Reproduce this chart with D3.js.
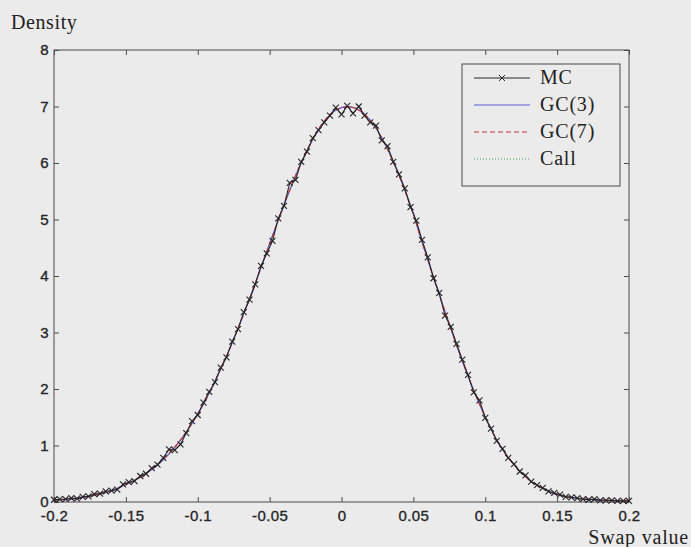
<!DOCTYPE html>
<html>
<head>
<meta charset="utf-8">
<script src="https://cdn.jsdelivr.net/npm/d3@7"></script>
<style>
  body { margin: 0; background: #ebebeb; }
  svg { display: block; }
  .tick-label { font-family: "Liberation Sans", Arial, sans-serif; font-size: 15px; fill: #262626; stroke: #262626; stroke-width: 0.35px; letter-spacing: 0.4px; }
  .serif { font-family: "Liberation Serif", "DejaVu Serif", serif; fill: #222; }
</style>
</head>
<body>
<script>

// x ticks / y ticks
var xTicks = [-0.2, -0.15, -0.1, -0.05, 0, 0.05, 0.1, 0.15, 0.2];
var xTickLabels = ["-0.2", "-0.15", "-0.1", "-0.05", "0", "0.05", "0.1", "0.15", "0.2"];
var yTicks = [0, 1, 2, 3, 4, 5, 6, 7, 8];

// Monte Carlo histogram density, bins every 0.004
var mcStart = -0.2, mcStep = 0.004;
var mcValues = [
  0.04, 0.05, 0.05, 0.07, 0.06, 0.09, 0.10, 0.14, 0.15, 0.19,
  0.20, 0.22, 0.31, 0.35, 0.37, 0.46, 0.50, 0.60, 0.66, 0.78,
  0.93, 0.92, 1.02, 1.22, 1.43, 1.54, 1.76, 1.95, 2.12, 2.38,
  2.56, 2.84, 3.06, 3.36, 3.58, 3.85, 4.18, 4.40, 4.62, 5.02,
  5.24, 5.65, 5.70, 6.02, 6.20, 6.44, 6.58, 6.72, 6.84, 6.98,
  6.86, 7.01, 6.88, 7.00, 6.84, 6.72, 6.66, 6.40, 6.30, 6.02,
  5.80, 5.55, 5.22, 4.98, 4.64, 4.33, 3.96, 3.70, 3.30, 3.10,
  2.80, 2.52, 2.25, 1.94, 1.80, 1.49, 1.30, 1.08, 0.94, 0.78,
  0.67, 0.54, 0.47, 0.36, 0.30, 0.25, 0.19, 0.16, 0.13, 0.09,
  0.08, 0.07, 0.05, 0.04, 0.05, 0.03, 0.03, 0.03, 0.02, 0.02,
  0.02
];

// approximations, evaluated every 0.005
var approxStart = -0.2, approxStep = 0.005;
var gc3Values = [
  0.03, 0.04, 0.05, 0.06, 0.08, 0.10, 0.13, 0.16, 0.20, 0.25,
  0.31, 0.37, 0.44, 0.52, 0.61, 0.72, 0.85, 1.00, 1.16, 1.35,
  1.56, 1.78, 2.03, 2.30, 2.58, 2.88, 3.20, 3.53, 3.87, 4.22,
  4.57, 4.92, 5.26, 5.58, 5.89, 6.17, 6.42, 6.63, 6.80, 6.92,
  6.98, 7.00, 6.97, 6.89, 6.76, 6.58, 6.36, 6.09, 5.79, 5.46,
  5.11, 4.68, 4.29, 3.90, 3.52, 3.15, 2.78, 2.43, 2.10, 1.79,
  1.50, 1.24, 1.01, 0.82, 0.66, 0.52, 0.40, 0.31, 0.24, 0.18,
  0.13, 0.10, 0.08, 0.06, 0.05, 0.04, 0.03, 0.03, 0.02, 0.02,
  0.02
];
var gc7Values = [
  0.03, 0.04, 0.05, 0.06, 0.08, 0.10, 0.13, 0.16, 0.20, 0.25,
  0.31, 0.37, 0.44, 0.52, 0.62, 0.73, 0.86, 1.00, 1.17, 1.35,
  1.56, 1.78, 2.03, 2.30, 2.58, 2.88, 3.20, 3.53, 3.87, 4.22,
  4.57, 4.92, 5.26, 5.59, 5.90, 6.18, 6.43, 6.64, 6.81, 6.93,
  6.99, 7.00, 6.97, 6.89, 6.76, 6.58, 6.35, 6.08, 5.78, 5.45,
  5.10, 4.68, 4.29, 3.90, 3.52, 3.15, 2.78, 2.43, 2.10, 1.79,
  1.50, 1.24, 1.01, 0.82, 0.66, 0.52, 0.40, 0.31, 0.24, 0.18,
  0.13, 0.10, 0.08, 0.06, 0.05, 0.04, 0.03, 0.03, 0.02, 0.02,
  0.02
];
var callValues = [
  0.03, 0.04, 0.05, 0.06, 0.08, 0.10, 0.13, 0.16, 0.20, 0.25,
  0.31, 0.37, 0.44, 0.52, 0.61, 0.72, 0.85, 1.00, 1.16, 1.35,
  1.56, 1.78, 2.03, 2.30, 2.58, 2.88, 3.20, 3.53, 3.87, 4.22,
  4.57, 4.92, 5.26, 5.58, 5.89, 6.17, 6.42, 6.63, 6.80, 6.92,
  6.98, 7.00, 6.97, 6.89, 6.76, 6.58, 6.36, 6.09, 5.79, 5.46,
  5.11, 4.68, 4.29, 3.90, 3.52, 3.15, 2.78, 2.43, 2.10, 1.79,
  1.50, 1.24, 1.01, 0.82, 0.66, 0.52, 0.40, 0.31, 0.24, 0.18,
  0.13, 0.10, 0.08, 0.06, 0.05, 0.04, 0.03, 0.03, 0.02, 0.02,
  0.02
];

var legendItems = ["MC", "GC(3)", "GC(7)", "Call"];

var width = 691, height = 547;
var margin = {left: 54, right: 62, top: 50, bottom: 45};

var svg = d3.select("body").append("svg")
  .attr("width", width)
  .attr("height", height);

var x = d3.scaleLinear().domain([-0.2, 0.2]).range([margin.left, width - margin.right]);
var y = d3.scaleLinear().domain([0, 8]).range([height - margin.bottom, margin.top]);

function toPoints(start, step, values) {
  return values.map(function(v, i) { return [start + i * step, v]; });
}

var mcData = toPoints(mcStart, mcStep, mcValues);
var gc3Data = toPoints(approxStart, approxStep, gc3Values);
var gc7Data = toPoints(approxStart, approxStep, gc7Values);
var callData = toPoints(approxStart, approxStep, callValues);

var line = d3.line()
  .x(function(d) { return x(d[0]); })
  .y(function(d) { return y(d[1]); });

// axes box with inward ticks on all four sides
var tickLen = 5;
var axisColor = "#4a4a4a";

svg.append("g")
  .attr("transform", "translate(0," + y(0) + ")")
  .call(d3.axisBottom(x).tickValues(xTicks).tickSizeInner(-tickLen).tickSizeOuter(0)
    .tickFormat(function(d, i) { return xTickLabels[i]; }))
  .call(function(g) {
    g.select(".domain").remove();
    g.selectAll(".tick line").attr("stroke", axisColor);
    g.selectAll(".tick text").attr("class", "tick-label").attr("y", 8).attr("dy", "0.71em");
  });

svg.append("g")
  .attr("transform", "translate(0," + y(8) + ")")
  .call(d3.axisTop(x).tickValues(xTicks).tickSizeInner(-tickLen).tickSizeOuter(0).tickFormat(""))
  .call(function(g) {
    g.select(".domain").remove();
    g.selectAll(".tick line").attr("stroke", axisColor);
  });

svg.append("g")
  .attr("transform", "translate(" + x(-0.2) + ",0)")
  .call(d3.axisLeft(y).tickValues(yTicks).tickSizeInner(-tickLen).tickSizeOuter(0)
    .tickFormat(d3.format("d")))
  .call(function(g) {
    g.select(".domain").remove();
    g.selectAll(".tick line").attr("stroke", axisColor);
    g.selectAll(".tick text").attr("class", "tick-label").attr("x", -5);
  });

svg.append("g")
  .attr("transform", "translate(" + x(0.2) + ",0)")
  .call(d3.axisRight(y).tickValues(yTicks).tickSizeInner(-tickLen).tickSizeOuter(0).tickFormat(""))
  .call(function(g) {
    g.select(".domain").remove();
    g.selectAll(".tick line").attr("stroke", axisColor);
  });

svg.append("rect")
  .attr("x", x(-0.2))
  .attr("y", y(8))
  .attr("width", x(0.2) - x(-0.2))
  .attr("height", y(0) - y(8))
  .attr("fill", "none")
  .attr("stroke", axisColor)
  .attr("stroke-width", 1);

// the curves
var plot = svg.append("g");

plot.append("path").datum(callData)
  .attr("d", line).attr("fill", "none")
  .attr("stroke", "#4f9a5a").attr("stroke-width", 1)
  .attr("stroke-dasharray", "1,2");

plot.append("path").datum(gc3Data)
  .attr("d", line).attr("fill", "none")
  .attr("stroke", "#5a5ad8").attr("stroke-width", 1.2);

plot.append("path").datum(gc7Data)
  .attr("d", line).attr("fill", "none")
  .attr("stroke", "#c83a3a").attr("stroke-width", 1.2)
  .attr("stroke-dasharray", "5,3");

plot.append("path").datum(mcData)
  .attr("d", line).attr("fill", "none")
  .attr("stroke", "#262626").attr("stroke-width", 1.1);

var ms = 3;
plot.selectAll(".mc-marker")
  .data(mcData)
  .enter().append("path")
  .attr("class", "mc-marker")
  .attr("d", function(d) {
    var cx = x(d[0]), cy = y(d[1]);
    return "M" + (cx - ms) + "," + (cy - ms) + "L" + (cx + ms) + "," + (cy + ms) +
      "M" + (cx - ms) + "," + (cy + ms) + "L" + (cx + ms) + "," + (cy - ms);
  })
  .attr("stroke", "#262626")
  .attr("stroke-width", 1.1);

// legend
var legend = svg.append("g");
legend.append("rect")
  .attr("x", 462).attr("y", 64)
  .attr("width", 158).attr("height", 122)
  .attr("fill", "#ebebeb")
  .attr("stroke", axisColor)
  .attr("stroke-width", 1);

var legendStyles = [
  {stroke: "#262626", dash: null, marker: true},
  {stroke: "#5a5ad8", dash: null, marker: false},
  {stroke: "#c83a3a", dash: "5,3", marker: false},
  {stroke: "#4f9a5a", dash: "1,2", marker: false}
];

legendItems.forEach(function(name, i) {
  var by = 84 + i * 27;
  var st = legendStyles[i];
  legend.append("line")
    .attr("x1", 474).attr("x2", 530)
    .attr("y1", by - 6).attr("y2", by - 6)
    .attr("stroke", st.stroke)
    .attr("stroke-width", 1)
    .attr("stroke-dasharray", st.dash);
  if(st.marker) {
    legend.append("path")
      .attr("d", "M499,75L505,81M499,81L505,75")
      .attr("stroke", st.stroke).attr("stroke-width", 1);
  }
  legend.append("text")
    .attr("class", "serif")
    .attr("x", 540).attr("y", by)
    .style("font-size", "20px")
    .style("letter-spacing", "0.8px")
    .text(name);
});

// axis titles
svg.append("text")
  .attr("class", "serif")
  .attr("x", 11).attr("y", 29)
  .style("font-size", "20px")
  .style("letter-spacing", "0.6px")
  .text("Density");

svg.append("text")
  .attr("class", "serif")
  .attr("x", 689).attr("y", 544)
  .attr("text-anchor", "end")
  .style("font-size", "20px")
  .style("letter-spacing", "0.8px")
  .text("Swap value");

</script>
</body>
</html>
